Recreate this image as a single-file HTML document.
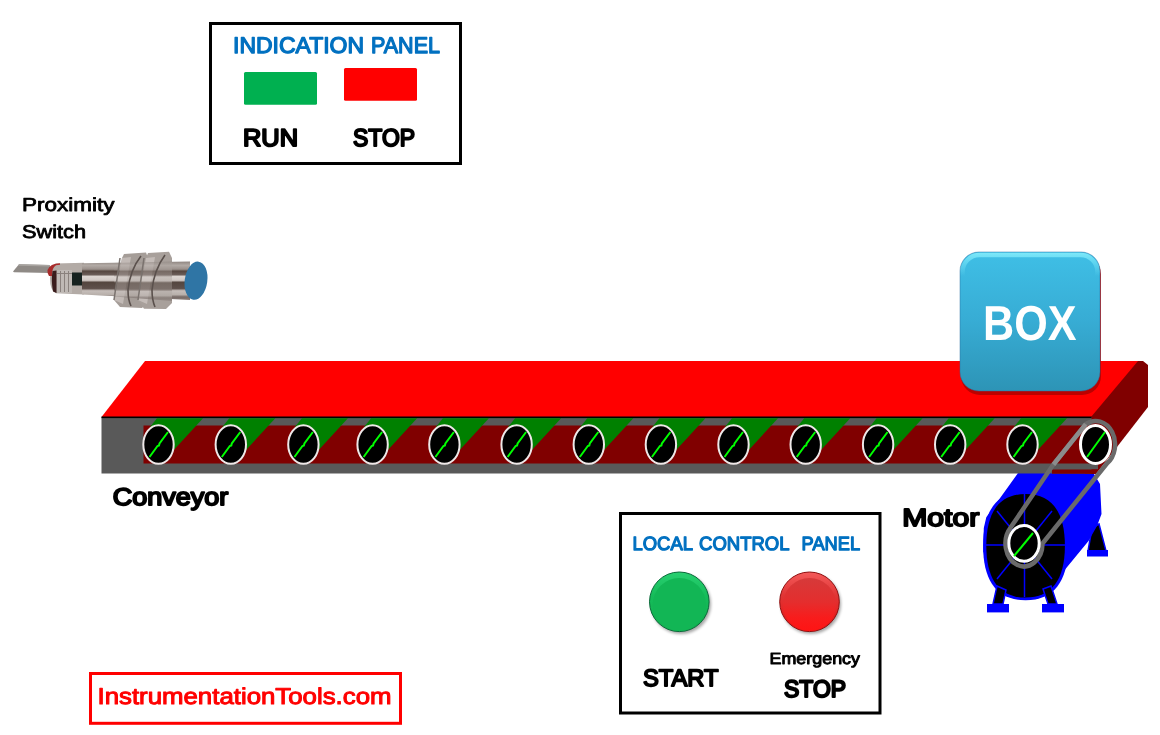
<!DOCTYPE html>
<html><head><meta charset="utf-8"><style>
html,body{margin:0;padding:0;background:#fff;width:1160px;height:735px;overflow:hidden}
svg{display:block;font-family:"Liberation Sans",sans-serif;will-change:transform;text-rendering:geometricPrecision}
</style></head><body>
<svg width="1160" height="735" viewBox="0 0 1160 735">
<rect width="1160" height="735" fill="#fff"/>
<defs>
<filter id="sh" x="-30%" y="-30%" width="160%" height="160%"><feGaussianBlur stdDeviation="1.5"/></filter>
<linearGradient id="boxg" x1="0" y1="0" x2="0" y2="1">
 <stop offset="0" stop-color="#3fbfe6"/>
 <stop offset="0.5" stop-color="#37acd4"/>
 <stop offset="1" stop-color="#2d94b6"/>
</linearGradient>
<linearGradient id="boxhi" gradientUnits="userSpaceOnUse" x1="0" y1="253" x2="0" y2="276">
 <stop offset="0" stop-color="#80eafa" stop-opacity="0.95"/>
 <stop offset="0.35" stop-color="#70e0f6" stop-opacity="0.75"/>
 <stop offset="1" stop-color="#70e0f6" stop-opacity="0"/>
</linearGradient>
<linearGradient id="gbtn" x1="0" y1="0" x2="0" y2="1">
 <stop offset="0" stop-color="#28d070"/>
 <stop offset="0.4" stop-color="#16bc5a"/>
 <stop offset="1" stop-color="#0fae4c"/>
</linearGradient>
<linearGradient id="rbtn" x1="0" y1="0" x2="0" y2="1">
 <stop offset="0" stop-color="#f45a5a"/>
 <stop offset="0.4" stop-color="#e03535"/>
 <stop offset="1" stop-color="#e81010"/>
</linearGradient>
<linearGradient id="rbtn2" x1="0" y1="0" x2="0" y2="1">
 <stop offset="0" stop-color="#d63a3a"/>
 <stop offset="0.45" stop-color="#e42e2e"/>
 <stop offset="0.75" stop-color="#f81c1c"/>
 <stop offset="1" stop-color="#ff1414"/>
</linearGradient>
<linearGradient id="metal" x1="0" y1="0" x2="0" y2="1">
 <stop offset="0" stop-color="#8a7f78"/>
 <stop offset="0.15" stop-color="#b8aea8"/>
 <stop offset="0.3" stop-color="#6a5e58"/>
 <stop offset="0.42" stop-color="#e8e2de"/>
 <stop offset="0.55" stop-color="#5a4c48"/>
 <stop offset="0.72" stop-color="#c8c0ba"/>
 <stop offset="0.86" stop-color="#6e6460"/>
 <stop offset="1" stop-color="#9a928e"/>
</linearGradient>
<linearGradient id="metal2" x1="0" y1="0" x2="0" y2="1">
 <stop offset="0" stop-color="#8e8580"/>
 <stop offset="0.1" stop-color="#b2aaa5"/>
 <stop offset="0.2" stop-color="#9a908b"/>
 <stop offset="0.25" stop-color="#55463f"/>
 <stop offset="0.34" stop-color="#6a5c57"/>
 <stop offset="0.39" stop-color="#ddd6d2"/>
 <stop offset="0.49" stop-color="#d0c8c4"/>
 <stop offset="0.54" stop-color="#54463f"/>
 <stop offset="0.7" stop-color="#5e504b"/>
 <stop offset="0.76" stop-color="#c6beba"/>
 <stop offset="0.86" stop-color="#b8b0ab"/>
 <stop offset="0.92" stop-color="#766a66"/>
 <stop offset="1" stop-color="#8a7e7a"/>
</linearGradient>
<linearGradient id="nut" x1="0" y1="0" x2="0" y2="1">
 <stop offset="0" stop-color="#a8a09a"/>
 <stop offset="0.5" stop-color="#8a807a"/>
 <stop offset="1" stop-color="#b0a8a2"/>
</linearGradient>
</defs>
<rect x="210.5" y="23.5" width="250" height="140" fill="none" stroke="#000" stroke-width="3"/>
<text x="233.00" y="53.24" textLength="131.00" lengthAdjust="spacingAndGlyphs" font-size="22.73" font-weight="normal" fill="#0070c0" stroke="#0070c0" stroke-width="1.3" stroke-linejoin="round">INDICATION</text>
<text x="371.00" y="53.24" textLength="69.00" lengthAdjust="spacingAndGlyphs" font-size="22.73" font-weight="normal" fill="#0070c0" stroke="#0070c0" stroke-width="1.3" stroke-linejoin="round">PANEL</text>
<rect x="244" y="72" width="73" height="32.8" rx="1.5" fill="#00b050"/>
<rect x="344" y="68" width="73" height="32.8" rx="1.5" fill="#ff0000"/>
<text x="243.00" y="146.16" textLength="55.00" lengthAdjust="spacingAndGlyphs" font-size="24.41" font-weight="normal" fill="#000" stroke="#000" stroke-width="2.0" stroke-linejoin="round">RUN</text>
<text x="353.00" y="146.16" textLength="62.00" lengthAdjust="spacingAndGlyphs" font-size="24.41" font-weight="normal" fill="#000" stroke="#000" stroke-width="2.0" stroke-linejoin="round">STOP</text>
<text x="22.00" y="210.76" textLength="92.50" lengthAdjust="spacingAndGlyphs" font-size="18.86" font-weight="normal" fill="#000" stroke="#000" stroke-width="0.8" stroke-linejoin="round">Proximity</text>
<text x="22.00" y="238.06" textLength="64.00" lengthAdjust="spacingAndGlyphs" font-size="18.58" font-weight="normal" fill="#000" stroke="#000" stroke-width="0.8" stroke-linejoin="round">Switch</text>
<g>
<path d="M13,271.5 L19,264.2 L50,265 L50,273 L14,272.3 Z" fill="#8f8a86"/>
<path d="M19,264.2 L50,265 L50,266.5 L18,265.8 Z" fill="#a8a4a0"/>
<path d="M56,263.5 L84,262.8 L84,294.5 L56,293.3 Q50,291 50,278 Q50.5,265 56,263.5 Z" fill="#b3aba6"/>
<path d="M60,263.2 Q50,263.5 47.5,270 Q47,273.5 49,276 L52,276 Q51.5,268 56,265.2 L60,264.8 Z" fill="#a82a2a"/>
<path d="M52.5,271 Q51,280 53,291.5 L56.5,293 L56.5,270.5 Z" fill="#3a1c1c"/>
<rect x="57" y="270" width="15" height="23" fill="#bfb9b5"/>
<g stroke="#8a827e" stroke-width="1"><line x1="60.5" y1="271" x2="60.5" y2="292"/><line x1="64.5" y1="271" x2="64.5" y2="292"/><line x1="68.5" y1="271" x2="68.5" y2="292"/><line x1="57" y1="273.5" x2="72" y2="273.5"/></g>
<rect x="72" y="272.5" width="10" height="13" fill="#16221f"/>
<path d="M82,263.2 L190,261.5 L190,300 L82,294.5 Z" fill="url(#metal2)"/>
<path d="M114,300 L122,258 L124,254 L146,252.5 L148,258 L148,302 L142,308 L120,307 Z" fill="#a59d98"/>
<path d="M114,300 L122,258 L131,257 L123,304 Z" fill="#c2bab6"/>
<path d="M138,300 L146,258 L148,253 L169,251.8 L172,258 L172,303 L166,309 L144,308.8 Z" fill="#a8a09b"/>
<path d="M138,300 L146,258 L155,257 L147,304 Z" fill="#c4bcb8"/>
<path d="M114,263 L172,261.5 L172,301 L114,296.5 Z" fill="url(#metal2)" opacity="0.6"/>
<path d="M141,256 Q130,270 128,290 Q128,300 131,306" fill="none" stroke="#5a504c" stroke-width="1.6"/>
<path d="M165,255 Q154,270 152,290 Q152,300 155,307" fill="none" stroke="#5a504c" stroke-width="1.6"/>
<path d="M120,258 L114,300" stroke="#7a726e" stroke-width="1.5"/>
<path d="M144,258 L138,300" stroke="#7a726e" stroke-width="1.5"/>
<ellipse cx="196" cy="280.7" rx="11.3" ry="19.2" fill="#2f75a5" transform="rotate(8 196 280.7)"/>
</g>
<g>
<path d="M1092,528 L1099,524 L1106,551 L1088,551 Z" fill="#000" stroke="#0000ff" stroke-width="1.5"/>
<rect x="1087" y="550" width="21" height="6.5" fill="#0000ff"/>
<path d="M983.3,552 L983.8,528 L986.3,517.2 L1017.7,473.6 L1020,455 L1094,455 L1094,474 L1100,484 L1101.5,514 L1097,526 L1088.5,541 L1051.7,585.8 L1024,592 Z" fill="#0000ff"/>
<path d="M1025.6,491.29999999999995 C1053.6,491.29999999999995 1068.1,509.8 1068.1,545.8 C1068.1,581.8 1053.6,600.3 1025.6,600.3 C997.5,600.3 983.0999999999999,581.8 983.0999999999999,545.8 C983.0999999999999,509.8 997.5,491.29999999999995 1025.6,491.29999999999995 Z" fill="#0000ff"/>
<path d="M1025.6,493.99999999999994 C1051.5,493.99999999999994 1064.8999999999999,511.6 1064.8999999999999,545.8 C1064.8999999999999,580.0 1051.5,597.5999999999999 1025.6,597.5999999999999 C999.7,597.5999999999999 986.3,580.0 986.3,545.8 C986.3,511.6 999.7,493.99999999999994 1025.6,493.99999999999994 Z" fill="#000"/>
<g stroke="#0000ff" stroke-width="1.5">
<line x1="1024.5" y1="545" x2="1024.5" y2="494"/>
<line x1="1024.5" y1="545" x2="1024.5" y2="597"/>
<line x1="1024.5" y1="545" x2="985" y2="545"/>
<line x1="1024.5" y1="545" x2="1065" y2="545"/>
<line x1="1024.5" y1="545" x2="997" y2="511"/>
<line x1="1024.5" y1="545" x2="1052" y2="511"/>
<line x1="1024.5" y1="545" x2="997" y2="579"/>
<line x1="1024.5" y1="545" x2="1052" y2="579"/>
</g>
<path d="M997,586 L1006,590 L1003,604 L993,604 Z" fill="#000" stroke="#0000ff" stroke-width="1.5"/>
<path d="M1043,589 L1051,586 L1057,604 L1048,604 Z" fill="#000" stroke="#0000ff" stroke-width="1.5"/>
<rect x="987" y="604" width="22" height="8.4" fill="#0000ff"/>
<rect x="1042" y="604" width="22" height="8.4" fill="#0000ff"/>
</g>
<path d="M1085,417 L1132,361 L1143,361 L1148,365 L1148,407 L1096,474 L1085,474 Z" fill="#800000"/>
<path d="M145,361 L1138,361 L1091,417 L101.5,417 Z" fill="#ff0000"/>
<rect x="101.5" y="417" width="990" height="56.5" fill="#595959"/>
<rect x="1091" y="463" width="7" height="6.4" fill="#595959"/>
<rect x="101.5" y="416.5" width="990" height="1.6" fill="#000"/>
<rect x="143.5" y="425.5" width="956" height="38" fill="#800000"/>
<path d="M1052,469.4 L1098,469.4 L1095,473.7 L1052,473.7 Z" fill="#800000"/>
<path d="M157.0,418.2 L203.0,418.2 L166.2,458.2 L158.5,444.5 L150.0,427 Z" fill="#008000"/>
<path d="M229.3,418.2 L275.3,418.2 L238.5,458.2 L230.8,444.5 L222.3,427 Z" fill="#008000"/>
<path d="M301.9,418.2 L347.9,418.2 L311.1,458.2 L303.4,444.5 L294.9,427 Z" fill="#008000"/>
<path d="M371.1,418.2 L417.1,418.2 L380.3,458.2 L372.6,444.5 L364.1,427 Z" fill="#008000"/>
<path d="M442.9,418.2 L488.9,418.2 L452.1,458.2 L444.4,444.5 L435.9,427 Z" fill="#008000"/>
<path d="M515.1,418.2 L561.1,418.2 L524.3,458.2 L516.6,444.5 L508.1,427 Z" fill="#008000"/>
<path d="M587.3,418.2 L633.3,418.2 L596.5,458.2 L588.8,444.5 L580.3,427 Z" fill="#008000"/>
<path d="M659.4,418.2 L705.4,418.2 L668.6,458.2 L660.9,444.5 L652.4,427 Z" fill="#008000"/>
<path d="M732.0,418.2 L778.0,418.2 L741.2,458.2 L733.5,444.5 L725.0,427 Z" fill="#008000"/>
<path d="M804.2,418.2 L850.2,418.2 L813.4,458.2 L805.7,444.5 L797.2,427 Z" fill="#008000"/>
<path d="M876.6,418.2 L922.6,418.2 L885.8,458.2 L878.1,444.5 L869.6,427 Z" fill="#008000"/>
<path d="M948.7,418.2 L994.7,418.2 L957.9,458.2 L950.2,444.5 L941.7,427 Z" fill="#008000"/>
<path d="M1021.0,418.2 L1067.0,418.2 L1030.2,458.2 L1022.5,444.5 L1014.0,427 Z" fill="#008000"/>
<ellipse cx="158.5" cy="444.5" rx="15.2" ry="19.2" fill="#000" stroke="#eee8e8" stroke-width="2"/>
<path d="M149.5,457.0 L157.5,446.0 L159.0,445.5 L159.5,443.5 L168.0,432.0" fill="none" stroke="#00ff00" stroke-width="2"/>
<ellipse cx="230.8" cy="444.5" rx="15.2" ry="19.2" fill="#000" stroke="#eee8e8" stroke-width="2"/>
<path d="M221.8,457.0 L229.8,446.0 L231.3,445.5 L231.8,443.5 L240.3,432.0" fill="none" stroke="#00ff00" stroke-width="2"/>
<ellipse cx="303.4" cy="444.5" rx="15.2" ry="19.2" fill="#000" stroke="#eee8e8" stroke-width="2"/>
<path d="M294.4,457.0 L302.4,446.0 L303.9,445.5 L304.4,443.5 L312.9,432.0" fill="none" stroke="#00ff00" stroke-width="2"/>
<ellipse cx="372.6" cy="444.5" rx="15.2" ry="19.2" fill="#000" stroke="#eee8e8" stroke-width="2"/>
<path d="M363.6,457.0 L371.6,446.0 L373.1,445.5 L373.6,443.5 L382.1,432.0" fill="none" stroke="#00ff00" stroke-width="2"/>
<ellipse cx="444.4" cy="444.5" rx="15.2" ry="19.2" fill="#000" stroke="#eee8e8" stroke-width="2"/>
<path d="M435.4,457.0 L443.4,446.0 L444.9,445.5 L445.4,443.5 L453.9,432.0" fill="none" stroke="#00ff00" stroke-width="2"/>
<ellipse cx="516.6" cy="444.5" rx="15.2" ry="19.2" fill="#000" stroke="#eee8e8" stroke-width="2"/>
<path d="M507.6,457.0 L515.6,446.0 L517.1,445.5 L517.6,443.5 L526.1,432.0" fill="none" stroke="#00ff00" stroke-width="2"/>
<ellipse cx="588.8" cy="444.5" rx="15.2" ry="19.2" fill="#000" stroke="#eee8e8" stroke-width="2"/>
<path d="M579.8,457.0 L587.8,446.0 L589.3,445.5 L589.8,443.5 L598.3,432.0" fill="none" stroke="#00ff00" stroke-width="2"/>
<ellipse cx="660.9" cy="444.5" rx="15.2" ry="19.2" fill="#000" stroke="#eee8e8" stroke-width="2"/>
<path d="M651.9,457.0 L659.9,446.0 L661.4,445.5 L661.9,443.5 L670.4,432.0" fill="none" stroke="#00ff00" stroke-width="2"/>
<ellipse cx="733.5" cy="444.5" rx="15.2" ry="19.2" fill="#000" stroke="#eee8e8" stroke-width="2"/>
<path d="M724.5,457.0 L732.5,446.0 L734.0,445.5 L734.5,443.5 L743.0,432.0" fill="none" stroke="#00ff00" stroke-width="2"/>
<ellipse cx="805.7" cy="444.5" rx="15.2" ry="19.2" fill="#000" stroke="#eee8e8" stroke-width="2"/>
<path d="M796.7,457.0 L804.7,446.0 L806.2,445.5 L806.7,443.5 L815.2,432.0" fill="none" stroke="#00ff00" stroke-width="2"/>
<ellipse cx="878.1" cy="444.5" rx="15.2" ry="19.2" fill="#000" stroke="#eee8e8" stroke-width="2"/>
<path d="M869.1,457.0 L877.1,446.0 L878.6,445.5 L879.1,443.5 L887.6,432.0" fill="none" stroke="#00ff00" stroke-width="2"/>
<ellipse cx="950.2" cy="444.5" rx="15.2" ry="19.2" fill="#000" stroke="#eee8e8" stroke-width="2"/>
<path d="M941.2,457.0 L949.2,446.0 L950.7,445.5 L951.2,443.5 L959.7,432.0" fill="none" stroke="#00ff00" stroke-width="2"/>
<ellipse cx="1022.5" cy="444.5" rx="15.2" ry="19.2" fill="#000" stroke="#eee8e8" stroke-width="2"/>
<path d="M1013.5,457.0 L1021.5,446.0 L1023.0,445.5 L1023.5,443.5 L1032.0,432.0" fill="none" stroke="#00ff00" stroke-width="2"/>
<path d="M1085.75,424.15 L1053,465 L1010.6,527.6 A18.5 23 0 1 0 1042.5,543.5 L1106.7,463.75 A19.5 23.5 0 0 0 1085.75,424.15 Z" fill="none" stroke="#6a6a6a" stroke-width="4.5" stroke-linejoin="round"/>
<path d="M1053.5,464.5 L1085.75,424.15" fill="none" stroke="#8c8c8c" stroke-width="4.5"/>
<ellipse cx="1095.5" cy="444.5" rx="15" ry="19" fill="#000" stroke="#ffffff" stroke-width="3"/>
<line x1="1087.0" y1="457.0" x2="1105.0" y2="432.0" stroke="#00ff00" stroke-width="2"/>
<ellipse cx="1024" cy="543.3" rx="15.2" ry="17.9" fill="#000" stroke="#ffffff" stroke-width="3"/>
<line x1="1014" y1="556" x2="1033" y2="533" stroke="#00ff00" stroke-width="2"/>
<rect x="961" y="255" width="140" height="140" rx="19" fill="#b00000" opacity="0.85"/>
<rect x="960" y="252" width="140" height="139" rx="19" fill="url(#boxg)" stroke="#2a6ea0" stroke-width="0.8" stroke-opacity="0.6"/>
<path d="M962.5,276 L962.5,272 A17 17 0 0 1 979.5,255 L1080.5,255 A17 17 0 0 1 1097.5,272 L1097.5,276" fill="none" stroke="url(#boxhi)" stroke-width="4.5"/>
<text x="983.00" y="339.90" textLength="93.50" lengthAdjust="spacingAndGlyphs" font-size="48.92" font-weight="bold" fill="#ffffff" >BOX</text>
<text x="112.70" y="505.41" textLength="115.60" lengthAdjust="spacingAndGlyphs" font-size="24.11" font-weight="normal" fill="#000" stroke="#000" stroke-width="1.9" stroke-linejoin="round">Conveyor</text>
<text x="902.20" y="525.56" textLength="77.10" lengthAdjust="spacingAndGlyphs" font-size="24.81" font-weight="normal" fill="#000" stroke="#000" stroke-width="1.9" stroke-linejoin="round">Motor</text>
<rect x="620.5" y="513.5" width="259.5" height="199.5" fill="none" stroke="#000" stroke-width="3"/>
<text x="632.50" y="550.40" textLength="60.50" lengthAdjust="spacingAndGlyphs" font-size="19.13" font-weight="normal" fill="#0070c0" stroke="#0070c0" stroke-width="1.25" stroke-linejoin="round">LOCAL</text>
<text x="699.00" y="550.40" textLength="90.60" lengthAdjust="spacingAndGlyphs" font-size="19.13" font-weight="normal" fill="#0070c0" stroke="#0070c0" stroke-width="1.25" stroke-linejoin="round">CONTROL</text>
<text x="801.60" y="550.40" textLength="58.50" lengthAdjust="spacingAndGlyphs" font-size="19.13" font-weight="normal" fill="#0070c0" stroke="#0070c0" stroke-width="1.25" stroke-linejoin="round">PANEL</text>
<circle cx="681" cy="604" r="30" fill="#000" opacity="0.35" filter="url(#sh)"/>
<circle cx="811" cy="604" r="30" fill="#000" opacity="0.35" filter="url(#sh)"/>
<circle cx="679.3" cy="601.8" r="29.8" fill="url(#gbtn)" stroke="#0a6a3a" stroke-width="1"/>
<ellipse cx="679.3" cy="604.5" rx="26.5" ry="26.5" fill="#12b655"/>
<circle cx="809.5" cy="601.8" r="29.8" fill="url(#rbtn)" stroke="#901010" stroke-width="1"/>
<ellipse cx="809.5" cy="604.5" rx="26.5" ry="26.5" fill="url(#rbtn2)"/>
<text x="643.00" y="686.00" textLength="75.50" lengthAdjust="spacingAndGlyphs" font-size="23.86" font-weight="normal" fill="#000" stroke="#000" stroke-width="1.9" stroke-linejoin="round">START</text>
<text x="769.50" y="664.16" textLength="90.50" lengthAdjust="spacingAndGlyphs" font-size="16.18" font-weight="normal" fill="#000" stroke="#000" stroke-width="0.95" stroke-linejoin="round">Emergency</text>
<text x="784.00" y="696.90" textLength="62.00" lengthAdjust="spacingAndGlyphs" font-size="23.86" font-weight="normal" fill="#000" stroke="#000" stroke-width="2.1" stroke-linejoin="round">STOP</text>
<rect x="90.5" y="673.5" width="310" height="49.8" fill="none" stroke="#ff0000" stroke-width="3"/>
<text x="97.50" y="703.76" textLength="294.00" lengthAdjust="spacingAndGlyphs" font-size="22.95" font-weight="normal" fill="#ff0000" stroke="#ff0000" stroke-width="1.0" stroke-linejoin="round">InstrumentationTools.com</text>
</svg>
</body></html>
